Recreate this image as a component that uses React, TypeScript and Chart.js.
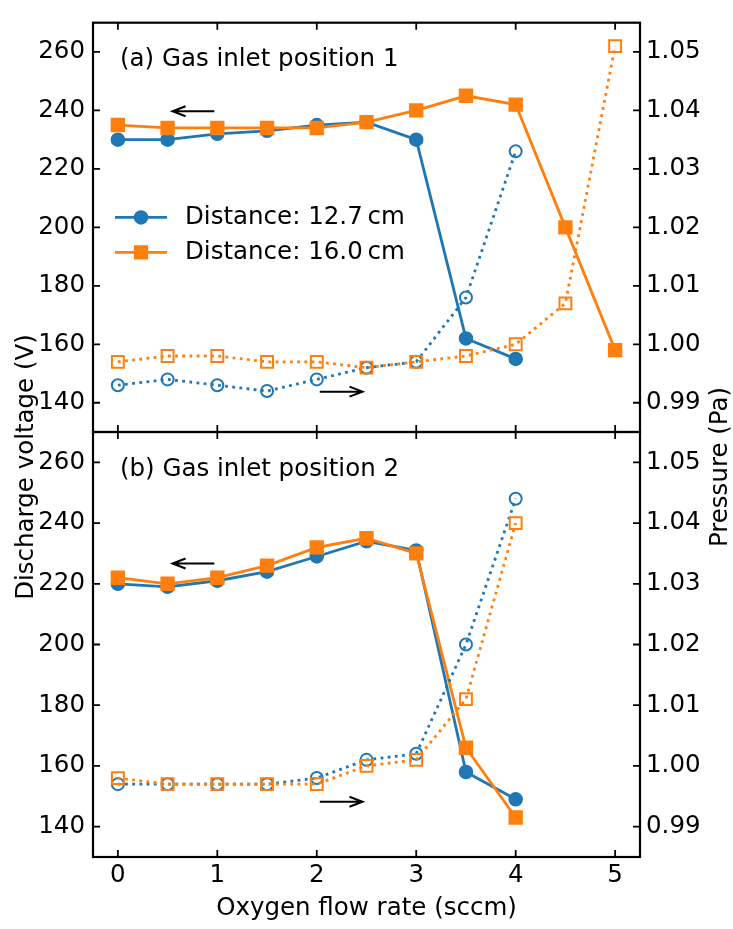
import React, { useEffect, useRef } from "react";
import { Chart, registerables } from "chart.js";

Chart.register(...registerables);

// ---------- data ----------
const flowRates = [0, 0.5, 1, 1.5, 2, 2.5, 3, 3.5, 4, 4.5, 5];

// Panel (a): gas inlet position 1
const voltageA127 = [230, 230, 232, 233, 235, 236, 230, 162, 155];
const voltageA160 = [235, 234, 234, 234, 234, 236, 240, 245, 242, 200, 158];
const pressureA127 = [0.993, 0.994, 0.993, 0.992, 0.994, 0.996, 0.997, 1.008, 1.033];
const pressureA160 = [0.997, 0.998, 0.998, 0.997, 0.997, 0.996, 0.997, 0.998, 1.0, 1.007, 1.051];

// Panel (b): gas inlet position 2
const voltageB127 = [220, 219, 221, 224, 229, 234, 231, 158, 149];
const voltageB160 = [222, 220, 222, 226, 232, 235, 230, 166, 143];
const pressureB127 = [0.997, 0.997, 0.997, 0.997, 0.998, 1.001, 1.002, 1.02, 1.044];
const pressureB160 = [0.998, 0.997, 0.997, 0.997, 0.997, 1.0, 1.001, 1.011, 1.04];

const flowTicks = [0, 1, 2, 3, 4, 5];
const voltageTicks = [140, 160, 180, 200, 220, 240, 260];
const pressureTicks = [0.99, 1.0, 1.01, 1.02, 1.03, 1.04, 1.05];

const seriesLabels = ["Distance: 12.7\u2009cm", "Distance: 16.0\u2009cm"];
const panelLabels = ["(a) Gas inlet position 1", "(b) Gas inlet position 2"];
const xTitle = "Oxygen flow rate (sccm)";
const yLeftTitle = "Discharge voltage (V)";
const yRightTitle = "Pressure (Pa)";

// ---------- style ----------
const W = 733;
const H = 929;
const BLUE = "#1f77b4";
const ORANGE = "#ff7f0e";
const FONT = "'DejaVu Sans', sans-serif";
const FS = 24.5;
const LW = 2.8;

type Arrow = { from: [number, number]; to: [number, number] };
type Panel = {
  label: string;
  v127: number[];
  v160: number[];
  p127: number[];
  p160: number[];
  arrows: Arrow[];
  top: number;
  bottom: number;
  showX: boolean;
  legend: boolean;
};

const panels: Panel[] = [
  {
    label: panelLabels[0],
    v127: voltageA127,
    v160: voltageA160,
    p127: pressureA127,
    p160: pressureA160,
    arrows: [
      { from: [0.97, 239.7], to: [0.55, 239.7] },
      { from: [2.03, 143.8], to: [2.46, 143.8] },
    ],
    top: 7,
    bottom: 432,
    showX: false,
    legend: true,
  },
  {
    label: panelLabels[1],
    v127: voltageB127,
    v160: voltageB160,
    p127: pressureB127,
    p160: pressureB160,
    arrows: [
      { from: [0.97, 226.7], to: [0.55, 226.7] },
      { from: [2.03, 148.2], to: [2.46, 148.2] },
    ],
    top: 432,
    bottom: 857,
    showX: true,
    legend: false,
  },
];

const toPoints = (vals: number[]) => vals.map((v, i) => ({ x: flowRates[i], y: v }));

function drawArrow(ctx: CanvasRenderingContext2D, x1: number, y1: number, x2: number, y2: number) {
  const ang = Math.atan2(y2 - y1, x2 - x1);
  const hl = 13;
  const hw = 5;
  ctx.beginPath();
  ctx.moveTo(x1, y1);
  ctx.lineTo(x2, y2);
  const bx = x2 - hl * Math.cos(ang);
  const by = y2 - hl * Math.sin(ang);
  const nx = -Math.sin(ang);
  const ny = Math.cos(ang);
  ctx.moveTo(bx + nx * hw, by + ny * hw);
  ctx.lineTo(x2, y2);
  ctx.lineTo(bx - nx * hw, by - ny * hw);
  ctx.stroke();
}

function makeOverlay(panel: Panel) {
  return {
    id: "overlay",
    afterDraw(chart: any) {
      const { ctx, chartArea: ca, scales } = chart;
      const sx = scales.x;
      const sv = scales.yV;
      const sp = scales.yP;
      ctx.save();
      ctx.strokeStyle = "#000";
      ctx.fillStyle = "#000";

      // inward tick marks on all four sides
      const TL = 7;
      ctx.lineWidth = 1.8;
      ctx.beginPath();
      for (const t of sx.ticks) {
        const px = sx.getPixelForValue(t.value);
        ctx.moveTo(px, ca.bottom);
        ctx.lineTo(px, ca.bottom - TL);
        ctx.moveTo(px, ca.top);
        ctx.lineTo(px, ca.top + TL);
      }
      for (const t of sv.ticks) {
        const py = sv.getPixelForValue(t.value);
        ctx.moveTo(ca.left, py);
        ctx.lineTo(ca.left + TL, py);
      }
      for (const t of sp.ticks) {
        const py = sp.getPixelForValue(t.value);
        ctx.moveTo(ca.right, py);
        ctx.lineTo(ca.right - TL, py);
      }
      ctx.stroke();

      // frame
      ctx.lineWidth = 2.2;
      ctx.strokeRect(ca.left, ca.top, ca.right - ca.left, ca.bottom - ca.top);

      // panel label
      ctx.font = `${FS}px ${FONT}`;
      ctx.textAlign = "left";
      ctx.textBaseline = "alphabetic";
      ctx.fillText(panel.label, ca.left + 27, ca.top + 43.5);

      // arrows (placed in data coordinates)
      ctx.lineWidth = 2;
      for (const a of panel.arrows) {
        drawArrow(
          ctx,
          sx.getPixelForValue(a.from[0]),
          sv.getPixelForValue(a.from[1]),
          sx.getPixelForValue(a.to[0]),
          sv.getPixelForValue(a.to[1])
        );
      }

      // legend
      if (panel.legend) {
        const rows = [
          { y: ca.top + 194.7, color: BLUE, shape: "circle", text: seriesLabels[0] },
          { y: ca.top + 229.7, color: ORANGE, shape: "rect", text: seriesLabels[1] },
        ];
        for (const r of rows) {
          const x0 = ca.left + 22;
          const x1 = ca.left + 74;
          const xm = (x0 + x1) / 2;
          ctx.strokeStyle = r.color;
          ctx.fillStyle = r.color;
          ctx.lineWidth = LW;
          ctx.beginPath();
          ctx.moveTo(x0, r.y);
          ctx.lineTo(x1, r.y);
          ctx.stroke();
          ctx.lineWidth = 1.5;
          ctx.beginPath();
          if (r.shape === "circle") {
            ctx.arc(xm, r.y, 6.5, 0, Math.PI * 2);
          } else {
            ctx.rect(xm - 6.4, r.y - 6.4, 12.8, 12.8);
          }
          ctx.fill();
          ctx.stroke();
          ctx.fillStyle = "#000";
          ctx.font = `${FS}px ${FONT}`;
          ctx.textAlign = "left";
          ctx.textBaseline = "alphabetic";
          ctx.fillText(r.text, ca.left + 92, r.y + 7);
        }
      }

      // shared axis titles (drawn once, on the lower panel's full-page canvas)
      if (panel.showX) {
        ctx.fillStyle = "#000";
        ctx.font = `${FS}px ${FONT}`;
        ctx.textAlign = "center";
        ctx.textBaseline = "alphabetic";
        ctx.save();
        ctx.translate(32.5, 467);
        ctx.rotate(-Math.PI / 2);
        ctx.fillText(yLeftTitle, 0, 0);
        ctx.restore();
        ctx.save();
        ctx.translate(727, 467);
        ctx.rotate(-Math.PI / 2);
        ctx.fillText(yRightTitle, 0, 0);
        ctx.restore();
      }
      ctx.restore();
    },
  };
}

function buildConfig(panel: Panel): any {
  const datasets = [
    {
      label: seriesLabels[0],
      data: toPoints(panel.v127),
      yAxisID: "yV",
      borderColor: BLUE,
      backgroundColor: BLUE,
      borderWidth: LW,
      pointStyle: "circle",
      pointRadius: 6.5,
      pointBorderWidth: 1.5,
      pointBackgroundColor: BLUE,
      pointBorderColor: BLUE,
      fill: false,
      tension: 0,
      order: 3,
    },
    {
      label: seriesLabels[1],
      data: toPoints(panel.v160),
      yAxisID: "yV",
      borderColor: ORANGE,
      backgroundColor: ORANGE,
      borderWidth: LW,
      pointStyle: "rect",
      pointRadius: 9.1,
      pointBorderWidth: 1.5,
      pointBackgroundColor: ORANGE,
      pointBorderColor: ORANGE,
      fill: false,
      tension: 0,
      order: 2,
    },
    {
      label: seriesLabels[0] + " (pressure)",
      data: toPoints(panel.p127),
      yAxisID: "yP",
      borderColor: BLUE,
      backgroundColor: "rgba(0,0,0,0)",
      borderWidth: LW,
      borderDash: [2.8, 4.4],
      pointStyle: "circle",
      pointRadius: 6,
      pointBorderWidth: 2,
      pointBackgroundColor: "rgba(0,0,0,0)",
      pointBorderColor: BLUE,
      fill: false,
      tension: 0,
      order: 1,
    },
    {
      label: seriesLabels[1] + " (pressure)",
      data: toPoints(panel.p160),
      yAxisID: "yP",
      borderColor: ORANGE,
      backgroundColor: "rgba(0,0,0,0)",
      borderWidth: LW,
      borderDash: [2.8, 4.4],
      pointStyle: "rect",
      pointRadius: 8.4,
      pointBorderWidth: 2,
      pointBackgroundColor: "rgba(0,0,0,0)",
      pointBorderColor: ORANGE,
      fill: false,
      tension: 0,
      order: 0,
    },
  ];

  const xHeight = panel.showX ? H - panel.bottom : 0;
  const tickFont = { family: FONT, size: FS };

  return {
    type: "line",
    data: { datasets },
    options: {
      responsive: false,
      maintainAspectRatio: false,
      animation: false,
      devicePixelRatio: 1,
      events: [],
      layout: {
        padding: {
          left: 0,
          right: 0,
          top: panel.top,
          bottom: H - panel.bottom - xHeight,
        },
      },
      plugins: {
        legend: { display: false },
        tooltip: { enabled: false },
        title: { display: false },
      },
      scales: {
        x: {
          type: "linear",
          position: "bottom",
          min: -0.25,
          max: 5.25,
          afterBuildTicks: (s: any) => {
            s.ticks = flowTicks.map((v) => ({ value: v }));
          },
          afterFit: (s: any) => {
            s.height = xHeight;
          },
          grid: { display: false, drawTicks: false },
          border: { display: false },
          ticks: {
            display: panel.showX,
            padding: 4,
            color: "#000",
            font: tickFont,
            maxRotation: 0,
            autoSkip: false,
            callback: (v: any) => String(v),
          },
          title: {
            display: panel.showX,
            text: xTitle,
            color: "#000",
            font: tickFont,
            padding: { top: 0, bottom: 6 },
          },
        },
        yV: {
          type: "linear",
          position: "left",
          min: 130,
          max: 270,
          afterBuildTicks: (s: any) => {
            s.ticks = voltageTicks.map((v) => ({ value: v }));
          },
          afterFit: (s: any) => {
            s.width = 93;
          },
          grid: { display: false, drawTicks: false },
          border: { display: false },
          ticks: {
            padding: 8,
            color: "#000",
            font: tickFont,
            autoSkip: false,
            callback: (v: any) => String(v),
          },
        },
        yP: {
          type: "linear",
          position: "right",
          min: 0.985,
          max: 1.055,
          afterBuildTicks: (s: any) => {
            s.ticks = pressureTicks.map((v) => ({ value: v }));
          },
          afterFit: (s: any) => {
            s.width = 93;
          },
          grid: { display: false, drawTicks: false },
          border: { display: false },
          ticks: {
            padding: 6,
            color: "#000",
            font: tickFont,
            autoSkip: false,
            callback: (v: any) => Number(v).toFixed(2),
          },
        },
      },
    },
    plugins: [makeOverlay(panel)],
  };
}

function PanelCanvas({ panel }: { panel: Panel }) {
  const ref = useRef<HTMLCanvasElement | null>(null);
  useEffect(() => {
    if (!ref.current) return;
    const chart = new Chart(ref.current, buildConfig(panel));
    return () => chart.destroy();
  }, [panel]);
  return (
    <canvas
      ref={ref}
      width={W}
      height={H}
      style={{ position: "absolute", left: 0, top: 0, width: W, height: H, display: "block" }}
    />
  );
}

export default function App() {
  return (
    <div
      style={{
        position: "absolute",
        left: 0,
        top: 0,
        width: W,
        height: H,
        background: "#fff",
        overflow: "hidden",
      }}
    >
      {panels.map((p, i) => (
        <PanelCanvas key={i} panel={p} />
      ))}
    </div>
  );
}
